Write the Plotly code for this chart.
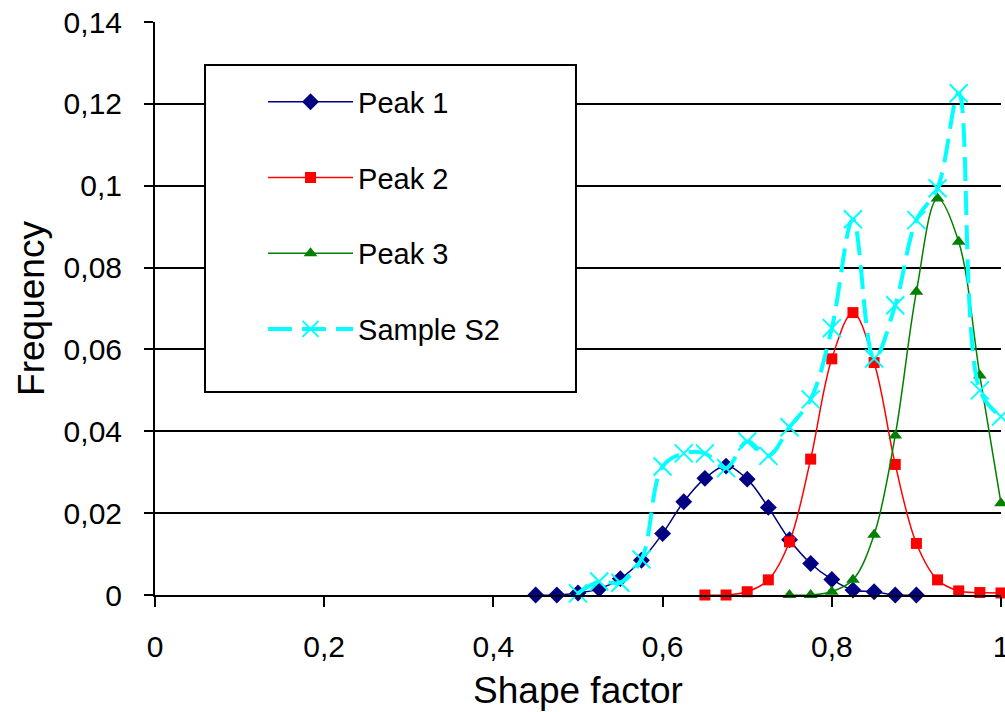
import plotly.graph_objects as go

# Shape-factor distributions: three fitted peaks and the measured sample
peak1_x = [0.45, 0.475, 0.5, 0.525, 0.55, 0.575, 0.6, 0.625, 0.65, 0.675,
           0.7, 0.725, 0.75, 0.775, 0.8, 0.825, 0.85, 0.875, 0.9]
peak1_y = [0.0, 0.0, 0.0005, 0.0015, 0.004, 0.0085, 0.015, 0.0228, 0.0285, 0.0315,
           0.0283, 0.0214, 0.0135, 0.0077, 0.0038, 0.0012, 0.0008, 0.0, 0.0]

peak2_x = [0.65, 0.675, 0.7, 0.725, 0.75, 0.775, 0.8, 0.825, 0.85,
           0.875, 0.9, 0.925, 0.95, 0.975, 1.0]
peak2_y = [0.0, 0.0, 0.0008, 0.0037, 0.013, 0.0332, 0.0577, 0.069, 0.0568,
           0.0319, 0.0126, 0.0037, 0.001, 0.0006, 0.0005]

peak3_x = [0.75, 0.775, 0.8, 0.825, 0.85, 0.875, 0.9, 0.925, 0.95, 0.975, 1.0]
peak3_y = [0.0, 0.0, 0.0008, 0.0037, 0.0147, 0.039, 0.0741, 0.0969, 0.0863, 0.0536, 0.0224]

sample_x = [0.5, 0.525, 0.55, 0.575, 0.6, 0.625, 0.65, 0.675, 0.7, 0.725, 0.75,
            0.775, 0.8, 0.825, 0.85, 0.875, 0.9, 0.925, 0.95, 0.975, 1.0]
sample_y = [0.0004, 0.0033, 0.003, 0.0087, 0.0314, 0.0346, 0.0346, 0.031, 0.0375, 0.034, 0.041,
            0.0478, 0.0652, 0.0918, 0.0578, 0.0708, 0.0916, 0.0994, 0.1226, 0.050, 0.0436]

x_ticks = [0, 0.2, 0.4, 0.6, 0.8, 1.0]
x_tick_labels = ["0", "0,2", "0,4", "0,6", "0,8", "1"]
y_ticks = [0, 0.02, 0.04, 0.06, 0.08, 0.10, 0.12, 0.14]
y_tick_labels = ["0", "0,02", "0,04", "0,06", "0,08", "0,1", "0,12", "0,14"]

FONT = "Liberation Sans, Arial, sans-serif"

fig = go.Figure()

fig.add_trace(go.Scatter(
    x=peak1_x, y=peak1_y, name="Peak 1", legendgroup="p1",
    mode="lines+markers", line=dict(color="#000080", width=1.5, shape="spline"),
    marker=dict(symbol="diamond", size=13, color="#000080"), cliponaxis=False))
fig.add_trace(go.Scatter(
    x=peak2_x, y=peak2_y, name="Peak 2", legendgroup="p2",
    mode="lines+markers", line=dict(color="#FF0000", width=1.5, shape="spline"),
    marker=dict(symbol="square", size=11, color="#FF0000"), cliponaxis=False))
fig.add_trace(go.Scatter(
    x=peak3_x, y=peak3_y, name="Peak 3", legendgroup="p3",
    mode="lines+markers", line=dict(color="#008000", width=1.5, shape="spline"),
    marker=dict(symbol="triangle-up", size=12, color="#008000"), cliponaxis=False))
fig.add_trace(go.Scatter(
    x=sample_x, y=sample_y, name="Sample S2", legendgroup="s2",
    mode="lines+markers",
    line=dict(color="#00FFFF", width=4, shape="spline", dash="24px,10px"),
    marker=dict(symbol="x-thin", size=18, color="#00FFFF",
                line=dict(color="#00FFFF", width=2)),
    cliponaxis=False))

fig.update_layout(
    width=1005, height=712,
    margin=dict(l=155, r=4, t=22, b=117),
    paper_bgcolor="white", plot_bgcolor="white",
    font=dict(family=FONT, color="black", size=30),
    showlegend=True,
    legend=dict(
        x=0.1277, y=0.905, xanchor="left", yanchor="top",
        bgcolor="rgba(0,0,0,0)", borderwidth=0,
        font=dict(family=FONT, size=29, color="black"),
        itemwidth=85, tracegroupgap=35, traceorder="grouped",
    ),
    shapes=[dict(
        type="rect", xref="paper", yref="paper",
        x0=0.0591, x1=0.4976, y0=0.3543, y1=0.925,
        line=dict(color="black", width=2), fillcolor="white", layer="above",
    )],
    xaxis=dict(
        range=[0, 1], tickvals=x_ticks, ticktext=x_tick_labels,
        showgrid=False, zeroline=False, automargin=False,
        showline=True, linecolor="black", linewidth=2,
        ticks="outside", ticklen=10, tickwidth=1.5, tickcolor="black",
        tickfont=dict(size=30), ticklabelstandoff=14, ticklabeloverflow="allow",
        title=dict(text="Shape factor", font=dict(size=37), standoff=15),
    ),
    yaxis=dict(
        range=[0, 0.14], tickvals=y_ticks, ticktext=y_tick_labels,
        showgrid=True, gridcolor="black", gridwidth=2,
        zeroline=False, automargin=False,
        showline=True, linecolor="black", linewidth=2,
        ticks="outside", ticklen=9, tickwidth=1.5, tickcolor="black",
        tickfont=dict(size=30), ticklabelstandoff=16,
        title=dict(text="Frequency", font=dict(size=37), standoff=8),
    ),
)

fig.write_html("out.html")
